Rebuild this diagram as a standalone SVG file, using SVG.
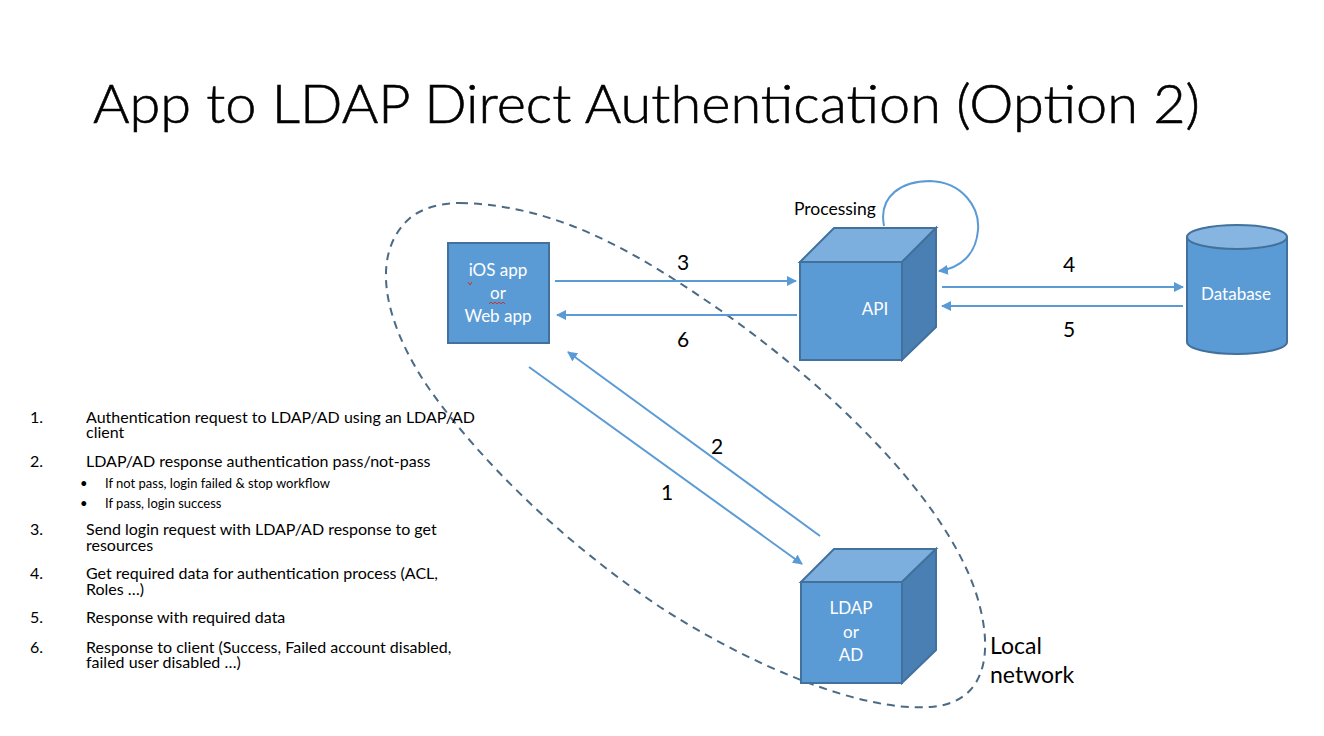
<svg xmlns="http://www.w3.org/2000/svg" width="1324" height="736" viewBox="0 0 1324 736">
<defs>
<marker id="ah" viewBox="0 0 10 10" refX="9" refY="5" markerWidth="5" markerHeight="5" orient="auto-start-reverse" markerUnits="strokeWidth">
<path d="M0,0 L10,5 L0,10 z" fill="#5b9bd5"/>
</marker>
<style>
.t{font-family:Lato,"Liberation Sans",sans-serif;fill:#000}
.w{font-family:Lato,"Liberation Sans",sans-serif;fill:#fff;font-size:17px;text-anchor:middle}
.front{fill:#5b9bd5;stroke:#41719c;stroke-width:2}
.top{fill:#7cafdd;stroke:#41719c;stroke-width:2}
.side{fill:#4a7fb3;stroke:#41719c;stroke-width:2}
.c{fill:none;stroke:#5b9bd5;stroke-width:2}
.lbl{font-family:Lato,"Liberation Sans",sans-serif;font-size:21px;text-anchor:middle;fill:#000}
.li{font-family:Lato,"Liberation Sans",sans-serif;font-size:16px;fill:#000}
.ls{font-family:Lato,"Liberation Sans",sans-serif;font-size:13px;fill:#000}
</style>
</defs>
<rect width="1324" height="736" fill="#fff"/>
<text class="t" x="93" y="123" font-size="54" font-weight="300" stroke="#000" stroke-width="0.6" textLength="1107" lengthAdjust="spacingAndGlyphs">App to LDAP Direct Authentication (Option 2)</text>

<path id="local-network" d="M460,203 C560,205 640,255 720,310 C820,380 940,490 975,590 C995,650 988,703 930,707 C860,712 750,665 660,607 C560,540 480,460 430,390 C385,325 368,255 410,218 C425,206 445,203 460,203 Z" fill="none" stroke="#4a6a85" stroke-width="2" stroke-dasharray="8,6"/>
<text class="t" x="990" y="654" font-size="23">Local</text>
<text class="t" x="990" y="683" font-size="23">network</text>

<g id="connectors">
<line class="c" x1="555" y1="281" x2="796" y2="281" marker-end="url(#ah)"/>
<line class="c" x1="797" y1="315" x2="557" y2="315" marker-end="url(#ah)"/>
<line class="c" x1="942" y1="287" x2="1183" y2="287" marker-end="url(#ah)"/>
<line class="c" x1="1183" y1="306" x2="942" y2="306" marker-end="url(#ah)"/>
<line class="c" x1="529" y1="367" x2="802" y2="564" marker-end="url(#ah)"/>
<line class="c" x1="820" y1="536" x2="568" y2="352" marker-end="url(#ah)"/>
<path class="c" d="M884,226 C878,195 903,181 930,181 C962,182 980,207 978,230 C976,255 960,268 939,271" marker-end="url(#ah)"/>
<text class="lbl" x="683" y="270">3</text>
<text class="lbl" x="683" y="347">6</text>
<text class="lbl" x="1069" y="272">4</text>
<text class="lbl" x="1069" y="337">5</text>
<text class="lbl" x="717" y="454">2</text>
<text class="lbl" x="667" y="500">1</text>
<text class="t" x="794" y="215" font-size="17.5">Processing</text>
</g>

<g id="client">
<rect x="448" y="243" width="101" height="100" class="front"/>
<text class="w" x="498" y="276">iOS app</text>
<text class="w" x="498" y="299">or</text>
<text class="w" x="498" y="322">Web app</text>
<path d="M468,282 l2,3 l2,-3" fill="none" stroke="#c0392b" stroke-width="1"/>
<path d="M489,304 l2,-2 l2,2 l2,-2 l2,2 l2,-2 l2,2 l2,-2 l2,2" fill="none" stroke="#c0392b" stroke-width="1"/>
</g>

<g id="api">
<polygon class="top" points="800,262 834,228 936,228 902,262"/>
<polygon class="side" points="902,262 936,228 936,327 902,360"/>
<rect class="front" x="800" y="262" width="102" height="98"/>
<text class="w" x="875" y="315">API</text>
</g>

<g id="database">
<path class="front" d="M1187,237 L1187,342 A50,12 0 0 0 1287,342 L1287,237"/>
<ellipse cx="1237" cy="237" rx="50" ry="12" fill="#85b5e0" stroke="#41719c" stroke-width="2"/>
<text class="w" x="1236" y="300" font-size="17.5">Database</text>
</g>

<g id="ldap">
<polygon class="top" points="801,582 834,549 936,549 902,582"/>
<polygon class="side" points="902,582 936,549 936,650 902,683"/>
<rect class="front" x="801" y="582" width="101" height="101"/>
<text class="w" x="851" y="614">LDAP</text>
<text class="w" x="851" y="638">or</text>
<text class="w" x="851" y="661">AD</text>
</g>

<g id="steps">
<text class="li" x="30" y="423">1.</text>
<text class="li" x="86" y="423">Authentication request to LDAP/AD using an LDAP/AD</text>
<text class="li" x="86" y="438">client</text>
<text class="li" x="30" y="467">2.</text>
<text class="li" x="86" y="467">LDAP/AD response authentication pass/not-pass</text>
<text class="ls" x="80" y="488">•</text>
<text class="ls" x="105" y="488">If not pass, login failed &amp; stop workflow</text>
<text class="ls" x="80" y="508">•</text>
<text class="ls" x="105" y="508">If pass, login success</text>
<text class="li" x="30" y="535">3.</text>
<text class="li" x="86" y="535">Send login request with LDAP/AD response to get</text>
<text class="li" x="86" y="551">resources</text>
<text class="li" x="30" y="579">4.</text>
<text class="li" x="86" y="579">Get required data for authentication process (ACL,</text>
<text class="li" x="86" y="595">Roles …)</text>
<text class="li" x="30" y="623">5.</text>
<text class="li" x="86" y="623">Response with required data</text>
<text class="li" x="30" y="653">6.</text>
<text class="li" x="86" y="653">Response to client (Success, Failed account disabled,</text>
<text class="li" x="86" y="668">failed user disabled …)</text>
</g>
</svg>
